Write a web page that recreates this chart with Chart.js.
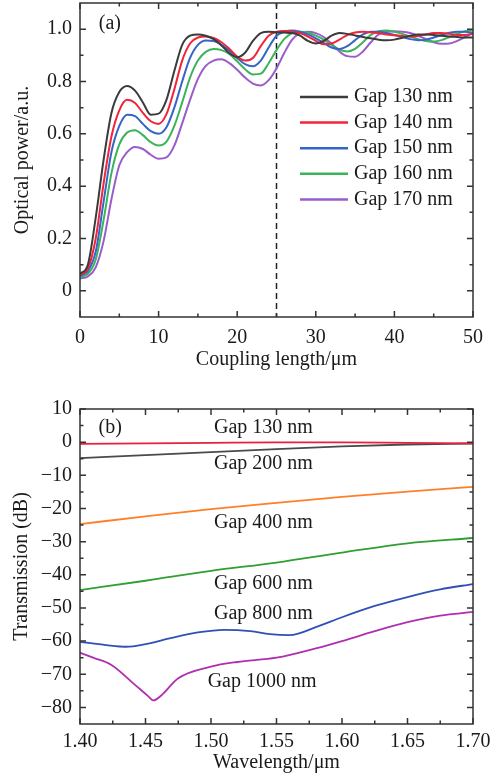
<!DOCTYPE html>
<html lang="en">
<head>
<meta charset="UTF-8">
<title>Optical power and transmission</title>
<script src="https://cdn.jsdelivr.net/npm/chart.js"></script>
<style>
  body { margin: 0; background: #fff; }
  .panel { position: relative; width: 494px; }
  #top { height: 380px; }
  #bottom { height: 396px; margin-top: 2px; }
</style>
</head>
<body>
<div class="panel" id="top"><canvas id="chartA"></canvas></div>
<div class="panel" id="bottom"><canvas id="chartB"></canvas></div>
<script>
// (a) optical power vs coupling length (um), one reading per um
const couplingLength = [0,1,2,3,4,5,6,7,8,9,10,11,12,13,14,15,16,17,18,19,20,21,22,23,24,25,
  26,27,28,29,30,31,32,33,34,35,36,37,38,39,40,41,42,43,44,45,46,47,48,49,50];
const power130 = [0.065,0.10,0.28,0.50,0.68,0.76,0.783,0.765,0.72,0.673,0.677,0.73,0.84,0.94,0.975,0.98,
  0.975,0.962,0.938,0.908,0.893,0.91,0.955,0.985,0.99,0.988,0.987,0.985,0.975,0.955,0.945,0.955,0.975,
  0.985,0.982,0.976,0.97,0.965,0.96,0.958,0.96,0.967,0.975,0.98,0.98,0.978,0.975,0.972,0.97,0.968,0.968];
const power140 = [0.062,0.085,0.20,0.41,0.59,0.69,0.73,0.718,0.68,0.648,0.638,0.675,0.77,0.88,0.945,0.968,
  0.972,0.966,0.95,0.925,0.895,0.88,0.89,0.935,0.975,0.99,0.993,0.99,0.985,0.972,0.955,0.942,0.945,
  0.96,0.977,0.987,0.99,0.988,0.985,0.98,0.977,0.974,0.972,0.974,0.98,0.985,0.985,0.982,0.978,0.978,0.983];
const power150 = [0.058,0.075,0.15,0.34,0.53,0.63,0.673,0.668,0.638,0.61,0.60,0.625,0.70,0.80,0.89,0.94,
  0.957,0.955,0.94,0.918,0.89,0.866,0.858,0.88,0.93,0.975,0.99,0.995,0.99,0.98,0.965,0.948,0.93,
  0.924,0.935,0.958,0.98,0.99,0.99,0.985,0.978,0.97,0.962,0.958,0.96,0.968,0.978,0.986,0.99,0.99,0.986];
const power160 = [0.052,0.065,0.12,0.27,0.45,0.56,0.605,0.614,0.595,0.568,0.555,0.57,0.63,0.72,0.815,0.88,
  0.913,0.924,0.92,0.905,0.877,0.847,0.827,0.83,0.87,0.92,0.963,0.985,0.99,0.987,0.975,0.96,0.94,
  0.922,0.915,0.925,0.95,0.978,0.992,0.995,0.99,0.982,0.972,0.962,0.955,0.953,0.958,0.97,0.983,0.992,0.996];
const power170 = [0.047,0.055,0.09,0.19,0.35,0.48,0.53,0.55,0.542,0.52,0.505,0.51,0.555,0.64,0.73,0.81,
  0.86,0.88,0.885,0.87,0.845,0.815,0.792,0.785,0.805,0.85,0.91,0.96,0.985,0.99,0.985,0.97,0.945,
  0.915,0.897,0.895,0.915,0.95,0.98,0.99,0.992,0.99,0.985,0.975,0.962,0.95,0.944,0.945,0.955,0.97,0.985];
const gapNamesA = ['Gap 130 nm', 'Gap 140 nm', 'Gap 150 nm', 'Gap 160 nm', 'Gap 170 nm'];
const lengthTicks = [0, 10, 20, 30, 40, 50];
const lengthMinor = [5, 15, 25, 35, 45];
const powerTicks = [0, 0.2, 0.4, 0.6, 0.8, 1.0];
const powerMinor = [0.1, 0.3, 0.5, 0.7, 0.9];
const markerLength = 25;

// (b) transmission (dB) vs wavelength (um)
const wlCoarse = [1.40, 1.45, 1.50, 1.55, 1.60, 1.65, 1.70];
const trans130 = [-0.5, -0.35, -0.2, -0.05, -0.05, -0.2, -0.35];
const trans200 = [-4.8, -3.9, -3.0, -2.1, -1.3, -0.7, -0.4];
const trans400 = [-24.7, -22.4, -20.2, -18.3, -16.5, -14.9, -13.5];
const trans600 = [-44.6, -41.8, -38.8, -36.3, -33.3, -30.5, -28.9];
const wl800 = [1.40, 1.42, 1.435, 1.45, 1.47, 1.49, 1.51, 1.53, 1.545, 1.56, 1.58, 1.60, 1.625, 1.65, 1.675, 1.70];
const trans800 = [-60.2, -61.2, -61.7, -60.9, -59.0, -57.4, -56.6, -57.0, -57.9, -58.2, -55.8, -52.8, -49.4, -46.7, -44.4, -42.8];
const wl1000 = [1.40, 1.41, 1.424, 1.442, 1.452, 1.456, 1.462, 1.475, 1.50, 1.52, 1.55, 1.58, 1.60, 1.625, 1.65, 1.675, 1.70];
const trans1000 = [-63.5, -65.0, -67.2, -73.2, -76.6, -77.9, -76.4, -71.2, -67.7, -66.3, -65.0, -62.2, -60.0, -57.0, -54.3, -52.3, -51.2];
const wlTicks = [1.40, 1.45, 1.50, 1.55, 1.60, 1.65, 1.70];
const wlMinor = [1.425, 1.475, 1.525, 1.575, 1.625, 1.675];
const dbTicks = [10, 0, -10, -20, -30, -40, -50, -60, -70, -80];
const dbMinor = [5, -5, -15, -25, -35, -45, -55, -65, -75];

const serif = 'Liberation Serif, Times New Roman, serif';
const ink = '#1a1a1a';

const pts = (xs, ys) => xs.map((x, i) => ({ x, y: ys[i] }));
const line = (label, data, color, width) => ({
  label, data, borderColor: color, borderWidth: width, pointRadius: 0,
  fill: false, cubicInterpolationMode: 'monotone'
});

// box frame with inward ticks on all four sides
const frameTicks = {
  id: 'frameTicks',
  afterDraw(chart, args, o) {
    const { ctx, chartArea: a, scales: { x, y } } = chart;
    ctx.save();
    ctx.strokeStyle = '#333';
    ctx.lineWidth = 1.5;
    ctx.beginPath();
    const vx = (vals, len) => vals.forEach(v => {
      const p = x.getPixelForValue(v);
      ctx.moveTo(p, a.bottom); ctx.lineTo(p, a.bottom - len);
      ctx.moveTo(p, a.top); ctx.lineTo(p, a.top + len);
    });
    const vy = (vals, len) => vals.forEach(v => {
      const p = y.getPixelForValue(v);
      ctx.moveTo(a.left, p); ctx.lineTo(a.left + len, p);
      ctx.moveTo(a.right, p); ctx.lineTo(a.right - len, p);
    });
    vx(o.xMajor, 6); vx(o.xMinor, 3.5);
    vy(o.yMajor, 6); vy(o.yMinor, 3.5);
    ctx.stroke();
    ctx.strokeRect(a.left, a.top, a.right - a.left, a.bottom - a.top);
    ctx.restore();
  }
};

// free text placed at data coordinates
const textMarks = {
  id: 'textMarks',
  afterDatasetsDraw(chart, args, o) {
    const { ctx, scales: { x, y } } = chart;
    ctx.save();
    ctx.fillStyle = ink;
    ctx.font = '20px ' + serif;
    ctx.textAlign = 'center';
    ctx.textBaseline = 'middle';
    o.items.forEach(t => ctx.fillText(t.text, x.getPixelForValue(t.x), y.getPixelForValue(t.y)));
    ctx.restore();
  }
};

const dashedMarker = {
  id: 'dashedMarker',
  beforeDatasetsDraw(chart, args, o) {
    if (o.at === undefined) return;
    const { ctx, chartArea: a, scales: { x } } = chart;
    const p = x.getPixelForValue(o.at);
    ctx.save();
    ctx.strokeStyle = '#222';
    ctx.lineWidth = 1.5;
    ctx.setLineDash([6, 4]);
    ctx.beginPath();
    ctx.moveTo(p, a.top); ctx.lineTo(p, a.bottom);
    ctx.stroke();
    ctx.restore();
  }
};

const boxLegend = {
  id: 'boxLegend',
  afterDraw(chart, args, o) {
    if (!o.show) return;
    const { ctx, chartArea: a } = chart;
    ctx.save();
    ctx.font = '20px ' + serif;
    ctx.textBaseline = 'middle';
    chart.data.datasets.forEach((d, i) => {
      const yy = a.top + 94 + i * 25.6;
      ctx.strokeStyle = d.borderColor;
      ctx.lineWidth = 2.5;
      ctx.beginPath();
      ctx.moveTo(a.left + 220, yy); ctx.lineTo(a.left + 268, yy);
      ctx.stroke();
      ctx.fillStyle = ink;
      ctx.fillText(d.label, a.left + 274, yy);
    });
    ctx.restore();
  }
};

function axis(min, max, ticks, fmt, title, pad, fit) {
  return {
    type: 'linear', min, max,
    afterBuildTicks: s => { s.ticks = ticks.map(v => ({ value: v })); },
    afterFit: fit,
    grid: { display: false, drawTicks: false },
    border: { display: false },
    ticks: { color: ink, font: { family: serif, size: 20 }, callback: fmt, autoSkip: false, maxRotation: 0, padding: pad },
    title: { display: true, text: title.text, color: ink, font: { family: serif, size: 20 }, padding: title.padding }
  };
}

// fixed axis boxes so the plot area lands where the figure has it
const fixHeight = h => s => { s.height = h; s.paddingLeft = 0; s.paddingRight = 0; };
const fixWidth = w => s => { s.width = w; s.paddingTop = 0; s.paddingBottom = 0; };

const common = {
  responsive: true, maintainAspectRatio: false, animation: false,
  events: []
};

new Chart(document.getElementById('chartA'), {
  type: 'line',
  data: {
    datasets: [
      line(gapNamesA[0], pts(couplingLength, power130), '#3b3b3b', 2),
      line(gapNamesA[1], pts(couplingLength, power140), '#f0243a', 2),
      line(gapNamesA[2], pts(couplingLength, power150), '#3565c9', 2),
      line(gapNamesA[3], pts(couplingLength, power160), '#3cb35a', 2),
      line(gapNamesA[4], pts(couplingLength, power170), '#9a5ccb', 2)
    ]
  },
  options: Object.assign({}, common, {
    layout: { padding: { top: 3, right: 21, left: 0, bottom: 0 } },
    scales: {
      x: axis(0, 50, lengthTicks, v => String(v), { text: 'Coupling length/μm', padding: { top: 0, bottom: 8 } }, 9, fixHeight(63)),
      y: axis(-0.1, 1.1, powerTicks, v => v === 0 ? '0' : v.toFixed(1), { text: 'Optical power/a.u.', padding: { top: 11, bottom: 0 } }, 8, fixWidth(80))
    },
    plugins: {
      legend: { display: false }, tooltip: { enabled: false },
      frameTicks: { xMajor: lengthTicks, xMinor: lengthMinor, yMajor: powerTicks, yMinor: powerMinor },
      textMarks: { items: [{ text: '(a)', x: 3.8, y: 1.02 }] },
      dashedMarker: { at: markerLength },
      boxLegend: { show: true }
    }
  }),
  plugins: [frameTicks, textMarks, dashedMarker, boxLegend]
});

new Chart(document.getElementById('chartB'), {
  type: 'line',
  data: {
    datasets: [
      line('Gap 130 nm', pts(wlCoarse, trans130), '#e8203a', 1.8),
      line('Gap 200 nm', pts(wlCoarse, trans200), '#4a4a4a', 1.8),
      line('Gap 400 nm', pts(wlCoarse, trans400), '#ff7f27', 1.8),
      line('Gap 600 nm', pts(wlCoarse, trans600), '#2f9e33', 1.8),
      line('Gap 800 nm', pts(wl800, trans800), '#3050b5', 1.8),
      line('Gap 1000 nm', pts(wl1000, trans1000), '#b02fb0', 1.8)
    ]
  },
  options: Object.assign({}, common, {
    layout: { padding: { top: 27, right: 21, left: 0, bottom: 0 } },
    scales: {
      x: axis(1.40, 1.70, wlTicks, v => v.toFixed(2), { text: 'Wavelength/μm', padding: { top: 0, bottom: 3 } }, 6, fixHeight(54)),
      y: axis(-85, 10, dbTicks, v => v < 0 ? '\u2212' + Math.abs(v) : String(v), { text: 'Transmission (dB)', padding: { top: 10, bottom: 0 } }, 8, fixWidth(80))
    },
    plugins: {
      legend: { display: false }, tooltip: { enabled: false },
      frameTicks: { xMajor: wlTicks, xMinor: wlMinor, yMajor: dbTicks, yMinor: dbMinor },
      textMarks: { items: [
        { text: '(b)', x: 1.423, y: 4.2 },
        { text: 'Gap 130 nm', x: 1.54, y: 4.2 },
        { text: 'Gap 200 nm', x: 1.54, y: -6.6 },
        { text: 'Gap 400 nm', x: 1.54, y: -24.3 },
        { text: 'Gap 600 nm', x: 1.54, y: -42.6 },
        { text: 'Gap 800 nm', x: 1.54, y: -51.6 },
        { text: 'Gap 1000 nm', x: 1.539, y: -72.3 }
      ] },
      dashedMarker: {},
      boxLegend: { show: false }
    }
  }),
  plugins: [frameTicks, textMarks, dashedMarker, boxLegend]
});
</script>
</body>
</html>
